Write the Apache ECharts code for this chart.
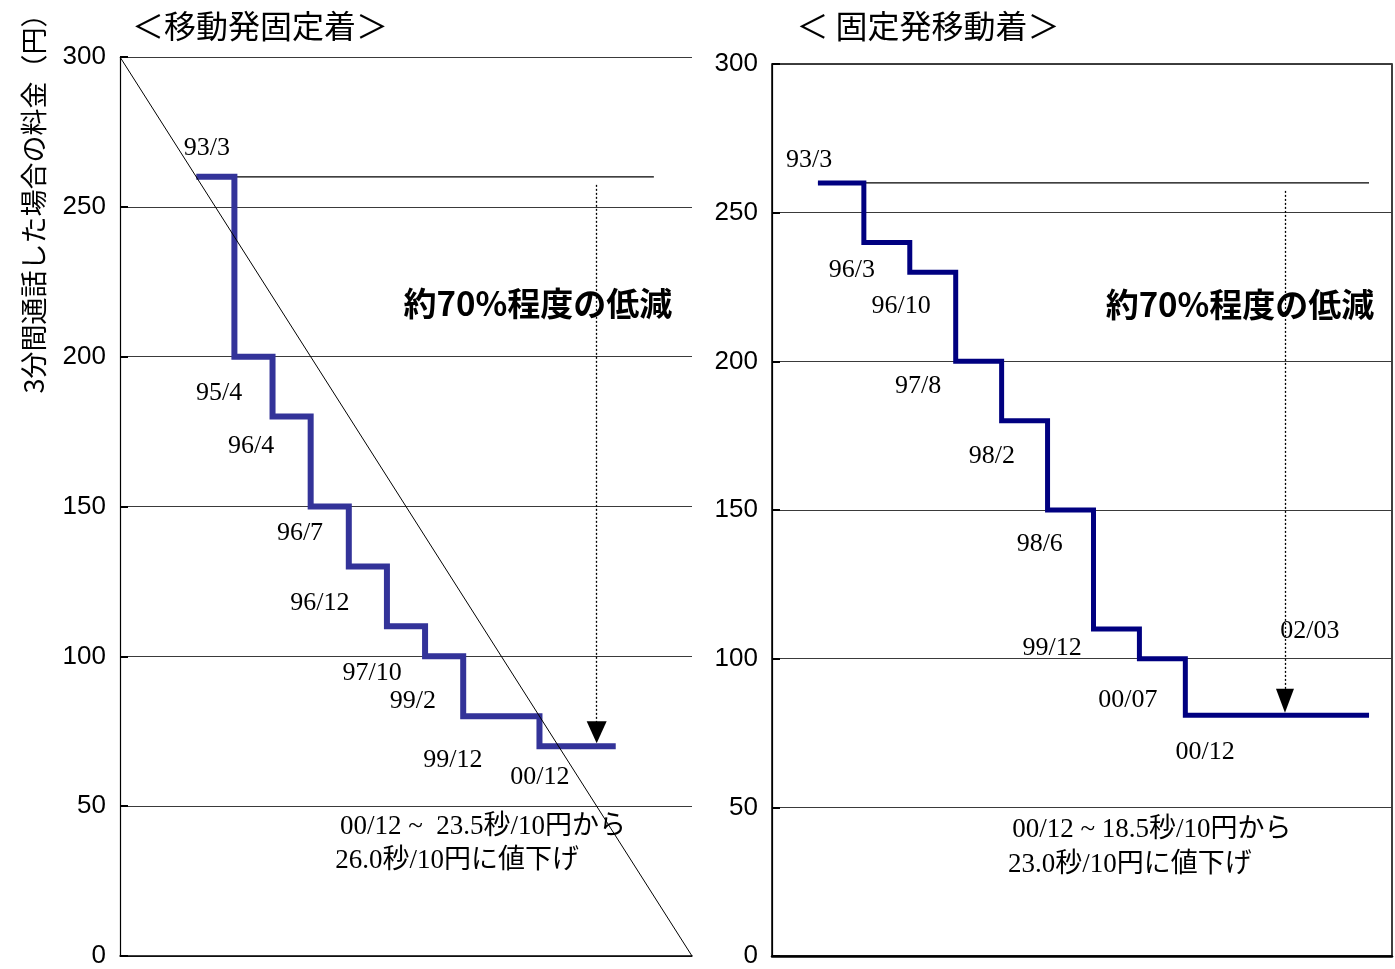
<!DOCTYPE html>
<html>
<head>
<meta charset="utf-8">
<script src="https://cdn.jsdelivr.net/npm/echarts@6/dist/echarts.min.js"></script>
<style>
  html, body { margin: 0; padding: 0; background: #fff; }
  #chart { width: 1395px; height: 969px; }
</style>
</head>
<body>
<div id="chart"></div>
<script>
// ---- data ----
const yTicks = [0, 50, 100, 150, 200, 250, 300];

// mobile -> fixed-line calls: fee for a 3-minute call (yen) after each revision
const mobDates = ['93/3', '95/4', '96/4', '96/7', '96/12', '97/10', '99/2', '99/12', '00/12'];
const mobFees  = [260, 200, 180, 150, 130, 110, 100, 80, 70];
const mobSlots = [2, 3, 4, 5, 6, 7, 8, 9, 11];   // position of each revision on the time axis
const mobEndSlot = 13;
const mobTrend = [[0, 300], [15, 0]];
const mobArrowSlot = 12.5;
const mobNote = ['00/12 ~  23.5秒/10円から', '26.0秒/10円に値下げ'];

// fixed-line -> mobile calls
const fixDates = ['93/3', '96/3', '96/10', '97/8', '98/2', '98/6', '99/12', '00/07', '00/12'];
const fixFees  = [260, 240, 230, 200, 180, 150, 110, 100, 81];
const fixSlots = [1, 2, 3, 4, 5, 6, 7, 8, 9];
const fixEndSlot = 13;
const fixArrowSlot = 11.17;
const fixArrowDate = '02/03';
const fixNote = ['00/12 ~ 18.5秒/10円から', '23.0秒/10円に値下げ'];

const reduction = '約70%程度の低減';
const titles = ['＜移動発固定着＞', '＜ 固定発移動着＞'];
const yName = '3分間通話した場合の料金（円）';

// ---- layout ----
const LG = { left: 120, top: 57, width: 572, height: 899, xMax: 15 };
const RG = { left: 772, top: 64, width: 620, height: 894, xMax: 13.5 };

// label anchors (axis units) for the date captions
const mobLabelPos = [[2.28, 269.6], [2.60, 187.9], [3.44, 170.2], [4.72, 141.2], [5.24, 117.8],
                     [6.61, 94.4], [7.68, 85.1], [8.73, 65.4], [11.01, 59.7]];
const fixLabelPos = [[0.81, 267.8], [1.74, 230.5], [2.81, 218.5], [3.18, 191.6], [4.79, 168.1],
                     [5.83, 138.6], [6.10, 103.4], [7.75, 85.9], [9.43, 68.5]];
const mobExtraPos = { reduction: [10.96, 217.6], note: [[9.52, 43.0], [8.84, 31.7]] };
const fixExtraPos = { reduction: [10.19, 219.1], note: [[8.27, 42.3], [7.79, 30.5]], arrowDate: [11.71, 109.4] };

const SERIF = '"Liberation Serif", "Times New Roman", serif';
const SANS = '"Liberation Sans", Arial, sans-serif';
const CJK = '"Noto Sans CJK JP", sans-serif';
const NOTE_FONT = '"Liberation Serif", "Noto Sans CJK JP", serif';

function stepData(slots, fees, endSlot) {
  const pts = slots.map((s, i) => [s, fees[i]]);
  pts.push([endSlot, fees[fees.length - 1]]);
  return pts;
}

function yAxisFor(gridIndex) {
  return {
    type: 'value', gridIndex, min: 0, max: 300, interval: 50,
    axisLine: { show: true, lineStyle: { color: '#000', width: 1.2 } },
    axisTick: { show: true, inside: true, length: 8, lineStyle: { color: '#000', width: 2 } },
    axisLabel: { color: '#000', fontFamily: SANS, fontSize: 26, margin: 14, padding: [6, 0, 0, 0],
      formatter: v => (yTicks.indexOf(v) >= 0 ? String(v) : '') },
    splitLine: { show: true, lineStyle: { color: '#3a3a3a', width: 1 } }
  };
}

function xAxisFor(gridIndex, max, lineWidth) {
  return {
    type: 'value', gridIndex, min: 0, max,
    axisLine: { show: true, onZero: false, lineStyle: { color: '#000', width: lineWidth } },
    axisTick: { show: false }, axisLabel: { show: false }, splitLine: { show: false }
  };
}

function labelSeries(idx, dates, pos, extra, noteLines, arrowDate) {
  const base = { color: '#000', opacity: 1, textBorderWidth: 0 };
  const items = dates.map((d, i) => ({
    name: d, value: pos[i],
    label: Object.assign({ fontFamily: SERIF, fontSize: 26 }, base)
  }));
  items.push({
    name: reduction, value: extra.reduction,
    label: Object.assign({ fontFamily: CJK, fontSize: 33, fontWeight: 'bold' }, base)
  });
  noteLines.forEach((t, i) => items.push({
    name: t, value: extra.note[i],
    label: Object.assign({ fontFamily: NOTE_FONT, fontSize: 27 }, base)
  }));
  if (arrowDate) {
    items.push({ name: arrowDate, value: extra.arrowDate,
      label: Object.assign({ fontFamily: SERIF, fontSize: 26 }, base) });
  }
  return {
    type: 'scatter', xAxisIndex: idx, yAxisIndex: idx, symbolSize: 0, z: 10,
    silent: true,
    itemStyle: { opacity: 1 },
    label: { show: true, position: 'inside', formatter: '{b}', color: '#000', opacity: 1 },
    data: items
  };
}

function arrowLine(idx, slot, fromFee, toFee, grid, lineW, size) {
  // pull the end back so the arrow's tip sits on the top edge of the step line
  const pxPerUnit = grid.height / 300;
  const end = toFee + (size[1] / 2 + lineW / 2) / pxPerUnit;
  const start = fromFee - 8 / pxPerUnit;
  return {
    type: 'line', xAxisIndex: idx, yAxisIndex: idx, data: [], z: 6, silent: true,
    markLine: {
      silent: true, animation: false,
      symbol: ['none', 'triangle'], symbolSize: size,
      label: { show: false },
      lineStyle: { color: '#000', type: [2, 2], width: 1.3, opacity: 1 },
      itemStyle: { color: '#000' },
      data: [[{ coord: [slot, start] }, { coord: [slot, end] }]]
    }
  };
}

const chart = echarts.init(document.getElementById('chart'), null, { renderer: 'canvas' });

chart.setOption({
  animation: false,
  backgroundColor: '#fff',
  grid: [
    { left: LG.left, top: LG.top, width: LG.width, height: LG.height, containLabel: false },
    { left: RG.left, top: RG.top, width: RG.width, height: RG.height, containLabel: false,
      show: true, borderColor: '#000', borderWidth: 1.5 }
  ],
  xAxis: [xAxisFor(0, LG.xMax, 1.5), xAxisFor(1, RG.xMax, 2.5)],
  yAxis: [yAxisFor(0), yAxisFor(1)],
  graphic: [
    { type: 'text', x: 260, y: 26, style: { text: titles[0], font: '32px "Noto Sans CJK JP", sans-serif',
      fill: '#000', textAlign: 'center', textVerticalAlign: 'middle' } },
    { type: 'text', x: 928, y: 26, style: { text: titles[1], font: '32px "Noto Sans CJK JP", sans-serif',
      fill: '#000', textAlign: 'center', textVerticalAlign: 'middle' } },
    { type: 'text', x: 34, y: 197, rotation: Math.PI / 2,
      style: { text: yName, font: '27px "Noto Sans CJK JP", sans-serif',
      fill: '#000', textAlign: 'center', textVerticalAlign: 'middle' } }
  ],
  series: [
    // level of 93/3 carried across as reference
    { type: 'line', xAxisIndex: 0, yAxisIndex: 0, symbol: 'none', silent: true, z: 2,
      lineStyle: { color: '#000', width: 1.2 },
      data: [[mobSlots[0], mobFees[0]], [14, mobFees[0]]] },
    { type: 'line', xAxisIndex: 0, yAxisIndex: 0, symbol: 'none', silent: true, z: 3, step: 'end',
      lineStyle: { color: '#333399', width: 6, join: 'miter', cap: 'butt' },
      data: stepData(mobSlots, mobFees, mobEndSlot) },
    { type: 'line', xAxisIndex: 0, yAxisIndex: 0, symbol: 'none', silent: true, z: 5,
      lineStyle: { color: '#000', width: 1 },
      data: mobTrend },
    arrowLine(0, mobArrowSlot, mobFees[0], mobFees[mobFees.length - 1], LG, 6, [20, 22]),
    labelSeries(0, mobDates, mobLabelPos, mobExtraPos, mobNote),

    { type: 'line', xAxisIndex: 1, yAxisIndex: 1, symbol: 'none', silent: true, z: 2,
      lineStyle: { color: '#000', width: 1.2 },
      data: [[fixSlots[0], fixFees[0]], [fixEndSlot, fixFees[0]]] },
    { type: 'line', xAxisIndex: 1, yAxisIndex: 1, symbol: 'none', silent: true, z: 3, step: 'end',
      lineStyle: { color: '#000080', width: 5, join: 'miter', cap: 'butt' },
      data: stepData(fixSlots, fixFees, fixEndSlot) },
    arrowLine(1, fixArrowSlot, fixFees[0], fixFees[fixFees.length - 1], RG, 5, [18, 24]),
    labelSeries(1, fixDates, fixLabelPos, fixExtraPos, fixNote, fixArrowDate)
  ]
});
</script>
</body>
</html>
